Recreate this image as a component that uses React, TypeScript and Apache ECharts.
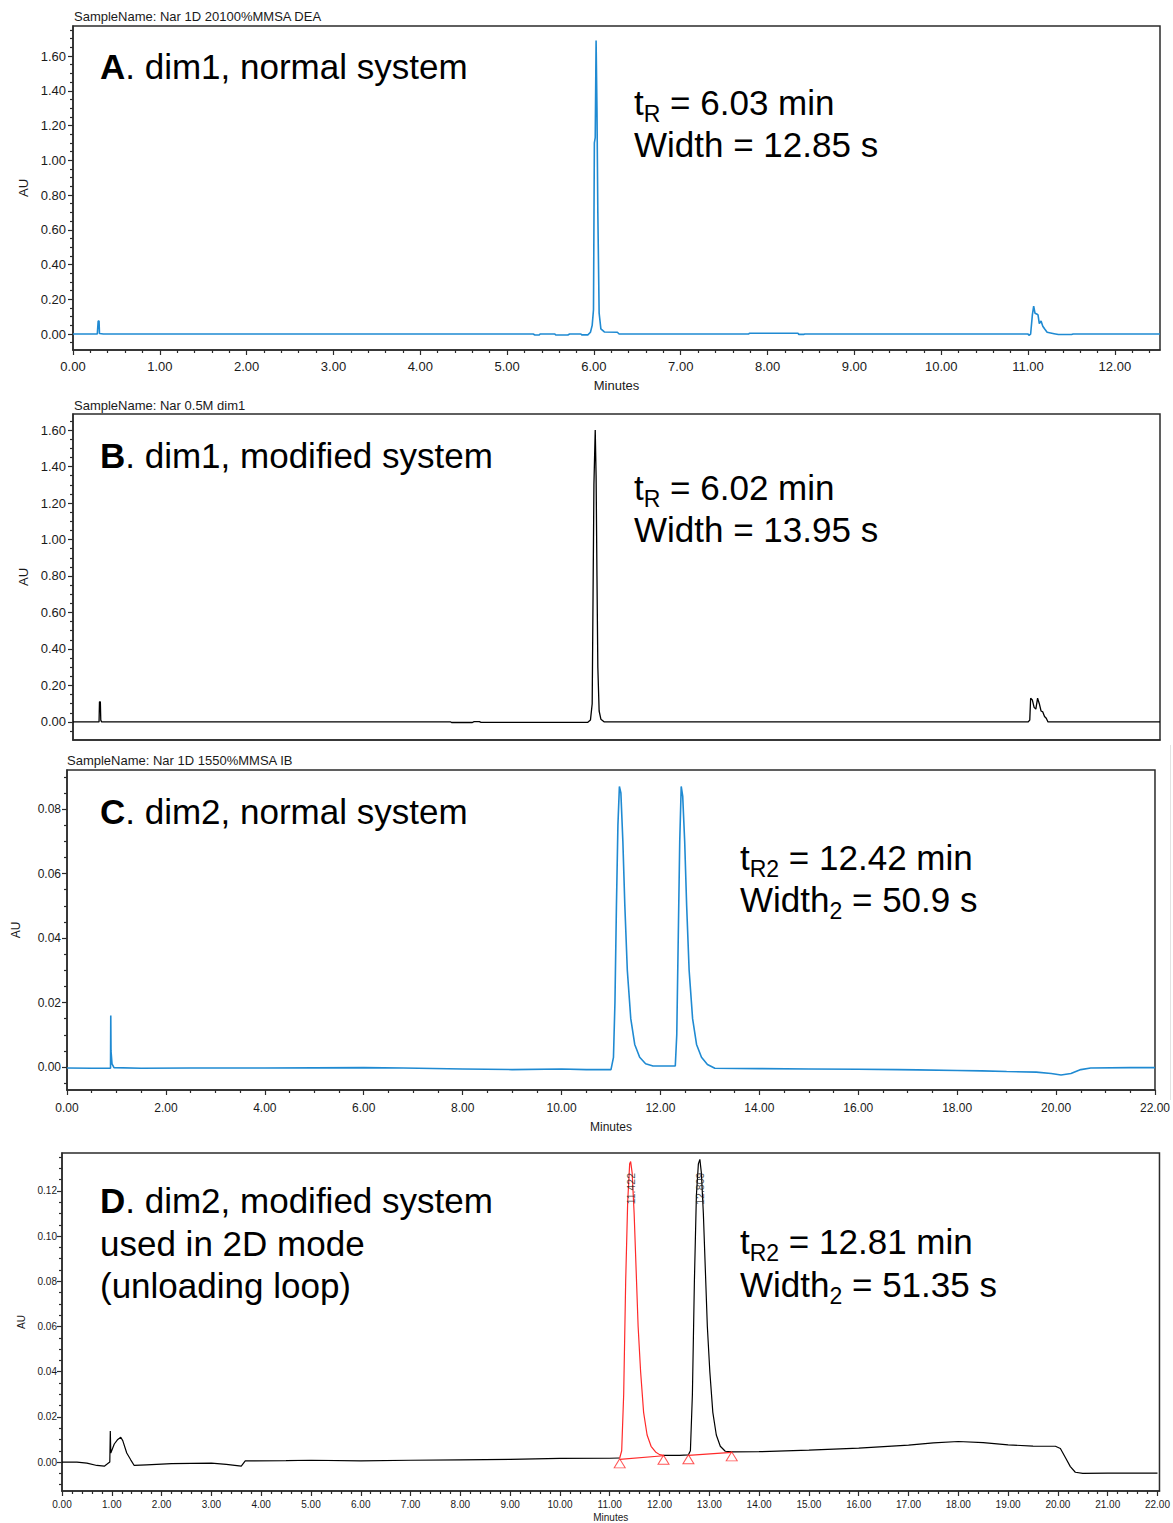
import React, { useEffect, useRef } from "react";
import * as echarts from "echarts";

const FONT = "'Liberation Sans', Arial, Helvetica, sans-serif";
const BLUE = "#1f8ad2";
const RED = "#ff2a2a";
const AXIS = "#2b2b2b";
const LABEL = "#1a1a1a";

// ---------- Panel A : dim1, normal system ----------
const aTrace: [number, number][] = [
  [0, 0], [0.28, 0], [0.29, 0.075], [0.30, 0.075], [0.305, 0.003], [0.35, 0],
  [5.30, 0], [5.32, -0.006], [5.37, -0.006], [5.38, 0], [5.55, 0], [5.56, -0.006], [5.70, -0.006],
  [5.72, 0], [5.85, 0], [5.86, -0.005], [5.93, -0.005], [5.96, 0.01], [5.98, 0.05], [5.995, 0.14],
  [6.005, 1.10], [6.015, 1.13], [6.025, 1.69], [6.035, 1.30], [6.045, 0.70], [6.06, 0.12],
  [6.08, 0.03], [6.12, 0.012], [6.27, 0.01], [6.29, 0],
  [7.78, 0], [7.79, 0.004], [8.35, 0.004], [8.36, -0.002], [8.42, -0.002], [8.43, 0],
  [11.0, 0], [11.01, -0.008], [11.03, 0], [11.05, 0.11], [11.065, 0.16], [11.08, 0.12],
  [11.10, 0.115], [11.115, 0.11], [11.13, 0.06], [11.15, 0.075], [11.17, 0.045], [11.19, 0.03],
  [11.22, 0.01], [11.3, 0.002], [11.35, -0.003], [11.5, -0.003], [11.52, 0], [12.52, 0],
];

// ---------- Panel B : dim1, modified system ----------
const bTrace: [number, number][] = [
  [0, 0], [0.30, 0], [0.305, 0.11], [0.315, 0.11], [0.32, 0.01], [0.33, 0],
  [4.35, 0], [4.36, -0.003], [4.60, -0.003], [4.62, 0.002], [4.68, 0.002], [4.70, -0.002],
  [5.93, -0.002], [5.96, 0.01], [5.98, 0.10], [5.99, 0.70], [6.00, 1.30], [6.015, 1.60],
  [6.025, 1.35], [6.035, 0.80], [6.045, 0.30], [6.06, 0.06], [6.08, 0.015], [6.12, 0],
  [11.0, 0], [11.02, 0.01], [11.03, 0.13], [11.05, 0.12], [11.07, 0.08], [11.09, 0.07],
  [11.11, 0.13], [11.13, 0.10], [11.15, 0.06], [11.17, 0.055], [11.19, 0.03], [11.21, 0.02],
  [11.23, 0], [12.52, 0],
];

// ---------- Panel C : dim2, normal system ----------
const cTrace: [number, number][] = [
  [0, -0.0003], [0.5, -0.0004], [0.88, -0.0004], [0.885, 0.016], [0.89, 0.005], [0.91, 0.001],
  [0.95, -0.0002], [1.5, -0.0004], [2.5, -0.0003], [4, -0.0003], [6, -0.0002], [6.8, -0.0003],
  [8, -0.0006], [9, -0.0008], [10, -0.0006], [10.5, -0.0008], [11.0, -0.0008],
  [11.05, 0.003], [11.08, 0.02], [11.11, 0.05], [11.14, 0.075], [11.17, 0.087], [11.20, 0.085],
  [11.24, 0.07], [11.28, 0.05], [11.33, 0.03], [11.40, 0.015], [11.48, 0.007], [11.58, 0.003],
  [11.70, 0.001], [11.85, 0.0003], [12.30, 0.0003],
  [12.33, 0.01], [12.36, 0.04], [12.39, 0.07], [12.42, 0.087], [12.45, 0.084], [12.49, 0.07],
  [12.53, 0.05], [12.58, 0.03], [12.65, 0.015], [12.73, 0.007], [12.83, 0.003], [12.95, 0.0008],
  [13.1, -0.0004], [14, -0.0005], [15, -0.0006], [16, -0.0007], [16.8, -0.0008], [17.2, -0.0009],
  [18, -0.0011], [18.5, -0.0012], [19.0, -0.0014], [19.6, -0.0016], [19.9, -0.002], [20.1, -0.0025],
  [20.3, -0.002], [20.5, -0.0008], [20.7, -0.0003], [21.5, -0.0002], [22, -0.0002],
];

// ---------- Panel D : dim2, modified system, 2D mode ----------
const dTraceBefore: [number, number][] = [
  [0, 0], [0.3, 0], [0.5, -0.0005], [0.7, -0.0015], [0.85, -0.0018], [0.9, -0.001], [0.96, 0],
  [0.97, 0.0138], [0.98, 0.004], [1.05, 0.008], [1.12, 0.010], [1.18, 0.011], [1.22, 0.0095],
  [1.30, 0.004], [1.38, 0.001], [1.45, -0.0015], [1.7, -0.0012], [2.2, -0.0007], [3.0, -0.0005],
  [3.3, -0.001], [3.6, -0.0018], [3.68, 0.0005], [4.5, 0.0006], [5.0, 0.0008], [6.0, 0.0005],
  [7.0, 0.0008], [8.0, 0.001], [9.0, 0.0012], [10.0, 0.0016], [11.0, 0.0017], [11.2, 0.0018],
];
const dRedPeak: [number, number][] = [
  [11.2, 0.0018], [11.24, 0.005], [11.28, 0.03], [11.32, 0.08], [11.36, 0.115], [11.40, 0.132],
  [11.42, 0.133], [11.45, 0.128], [11.49, 0.11], [11.53, 0.085], [11.57, 0.06], [11.62, 0.04],
  [11.68, 0.022], [11.75, 0.012], [11.83, 0.007], [11.92, 0.0045], [12.00, 0.0033], [12.08, 0.003],
];
const dTraceAfter: [number, number][] = [
  [12.08, 0.003], [12.4, 0.003], [12.58, 0.0032], [12.62, 0.005], [12.66, 0.03], [12.70, 0.08],
  [12.74, 0.118], [12.78, 0.132], [12.81, 0.134], [12.84, 0.128], [12.88, 0.11], [12.92, 0.085],
  [12.96, 0.06], [13.01, 0.04], [13.07, 0.022], [13.14, 0.012], [13.22, 0.007], [13.32, 0.0048],
  [13.45, 0.0045], [14.0, 0.0046], [15.0, 0.0053], [16.0, 0.0062], [17.0, 0.0075], [17.5, 0.0085],
  [18.0, 0.0091], [18.5, 0.0086], [19.0, 0.0076], [19.5, 0.0071], [19.95, 0.007], [20.05, 0.006],
  [20.15, 0.002], [20.25, -0.002], [20.35, -0.0045], [20.5, -0.005], [21.0, -0.0049], [22.0, -0.0049],
];
const dRedBaseline1: [number, number][] = [[11.2, 0.0012], [12.08, 0.0028]];
const dRedBaseline2: [number, number][] = [[12.58, 0.003], [13.45, 0.0043]];
const dTriangles: [number, number][] = [[11.2, 0.0012], [12.08, 0.0028], [12.58, 0.003], [13.45, 0.0043]];
const dRedPeakLabel: [number, number][] = [[11.422, 0.121]];
const dBlackPeakLabel: [number, number][] = [[12.809, 0.121]];

// ---------- Tick labels ----------
const abXMajor = [0, 1, 2, 3, 4, 5, 6, 7, 8, 9, 10, 11, 12];
const abYMajor = [0, 0.2, 0.4, 0.6, 0.8, 1.0, 1.2, 1.4, 1.6];
const cXMajor = [0, 2, 4, 6, 8, 10, 12, 14, 16, 18, 20, 22];
const cYMajor = [0, 0.02, 0.04, 0.06, 0.08];
const dXMajor = [0, 1, 2, 3, 4, 5, 6, 7, 8, 9, 10, 11, 12, 13, 14, 15, 16, 17, 18, 19, 20, 21, 22];
const dYMajor = [0, 0.02, 0.04, 0.06, 0.08, 0.10, 0.12];

function minorTicks(min: number, max: number, step: number, majors: number[]) {
  const out: number[] = [];
  const s = Math.ceil(min / step - 1e-9);
  const e = Math.floor(max / step + 1e-9);
  for (let k = s; k <= e; k++) {
    const v = +(k * step).toFixed(6);
    if (!majors.some((m) => Math.abs(m - v) < 1e-9)) out.push(v);
  }
  return out;
}

type Panel = {
  grid: { left: number; top: number; width: number; height: number };
  x: [number, number];
  y: [number, number];
  xMajor: number[];
  xMinorStep: number;
  yMajor: number[];
  yMinorStep: number;
  xLabels: boolean;
  fs: number;
  xNameGap: number;
  yNameGap: number;
  xLabelMargin: number;
  yLabelMargin: number;
};

const panels: Panel[] = [
  { grid: { left: 73, top: 26, width: 1087, height: 324 }, x: [0, 12.52], y: [-0.092, 1.773],
    xMajor: abXMajor, xMinorStep: 0.2, yMajor: abYMajor, yMinorStep: 0.05, xLabels: true, fs: 13,
    xNameGap: 29, yNameGap: 40, xLabelMargin: 10, yLabelMargin: 7 },
  { grid: { left: 73, top: 414, width: 1087, height: 326 }, x: [0, 12.52], y: [-0.099, 1.688],
    xMajor: abXMajor, xMinorStep: 0.2, yMajor: abYMajor, yMinorStep: 0.05, xLabels: false, fs: 13,
    xNameGap: 28, yNameGap: 40, xLabelMargin: 10, yLabelMargin: 7 },
  { grid: { left: 67, top: 770, width: 1090, height: 320 }, x: [0, 22], y: [-0.00713, 0.0921],
    xMajor: cXMajor, xMinorStep: 0.5, yMajor: cYMajor, yMinorStep: 0.005, xLabels: true, fs: 12,
    xNameGap: 31, yNameGap: 45, xLabelMargin: 12, yLabelMargin: 6 },
  { grid: { left: 62, top: 1153, width: 1098, height: 339 }, x: [0, 22.04], y: [-0.0128, 0.1368],
    xMajor: dXMajor, xMinorStep: 0.2, yMajor: dYMajor, yMinorStep: 0.005, xLabels: true, fs: 10,
    xNameGap: 21, yNameGap: 32, xLabelMargin: 8, yLabelMargin: 5 },
];

const W: Record<string, number> = { t: 0.278, R: 0.722, "2": 0.556, W: 0.944, i: 0.222, d: 0.556, h: 0.556, " ": 0.278 };
const tw = (s: string, fs: number) => [...s].reduce((a, c) => a + (W[c] ?? 0.556) * fs, 0);

const MAIN = 35;
const SUB = 23;
function subText(x: number, y: number, parts: [string, boolean][]) {
  const els: any[] = [];
  let cx = x;
  for (const [t, isSub] of parts) {
    const fs = isSub ? SUB : MAIN;
    els.push({
      type: "text", x: cx, y: isSub ? y + 11.5 : y, z: 100,
      style: { text: t, fontSize: fs, fontFamily: FONT, fill: "#000", align: "left", verticalAlign: "middle" },
    });
    cx += tw(t, fs);
  }
  return els;
}
function bigLabel(x: number, y: number, letter: string, rest: string) {
  return {
    type: "text", x, y, z: 100,
    style: {
      text: `{b|${letter}}${rest}`, fontSize: MAIN, fontFamily: FONT, fill: "#000",
      align: "left", verticalAlign: "middle",
      rich: { b: { fontSize: MAIN, fontFamily: FONT, fontWeight: "bold", fill: "#000" } },
    },
  };
}
function plain(x: number, y: number, text: string, fs: number) {
  return {
    type: "text", x, y, z: 100,
    style: { text, fontSize: fs, fontFamily: FONT, fill: fs > 20 ? "#000" : LABEL, align: "left", verticalAlign: "middle" },
  };
}

export default function App() {
  const ref = useRef<HTMLDivElement>(null);
  useEffect(() => {
    document.body.style.margin = "0";
    const chart = echarts.init(ref.current!, undefined, { renderer: "svg" });
    const grids: any[] = [];
    const xAxes: any[] = [];
    const yAxes: any[] = [];
    panels.forEach((p, i) => {
      grids.push({ ...p.grid, show: true, borderColor: AXIS, borderWidth: 1.5, backgroundColor: "transparent" });
      const lbl = { fontSize: p.fs, fontFamily: FONT, color: LABEL };
      xAxes.push({
        type: "value", gridIndex: i, min: p.x[0], max: p.x[1], position: "bottom",
        axisLine: { show: true, onZero: false, lineStyle: { color: AXIS, width: 1.5 } },
        axisTick: { show: p.xLabels, length: 5, customValues: p.xMajor, lineStyle: { color: AXIS, width: 1.2 } },
        axisLabel: { show: p.xLabels, customValues: p.xMajor, formatter: (v: number) => v.toFixed(2), margin: p.xLabelMargin, ...lbl },
        splitLine: { show: false },
        name: p.xLabels ? "Minutes" : "", nameLocation: "middle", nameGap: p.xNameGap, nameTextStyle: lbl,
      });
      xAxes.push({
        type: "value", gridIndex: i, min: p.x[0], max: p.x[1], position: "bottom",
        axisLine: { show: false, onZero: false },
        axisTick: { show: p.xLabels, length: 3, customValues: minorTicks(p.x[0], p.x[1], p.xMinorStep, p.xMajor), lineStyle: { color: AXIS, width: 1.2 } },
        axisLabel: { show: false }, splitLine: { show: false },
      });
      yAxes.push({
        type: "value", gridIndex: i, min: p.y[0], max: p.y[1], position: "left",
        axisLine: { show: true, onZero: false, lineStyle: { color: AXIS, width: 1.5 } },
        axisTick: { show: true, length: 5, customValues: p.yMajor, lineStyle: { color: AXIS, width: 1.2 } },
        axisLabel: { show: true, customValues: p.yMajor, formatter: (v: number) => v.toFixed(2), margin: p.yLabelMargin, ...lbl },
        splitLine: { show: false },
        name: "AU", nameLocation: "middle", nameGap: p.yNameGap, nameTextStyle: lbl,
      });
      yAxes.push({
        type: "value", gridIndex: i, min: p.y[0], max: p.y[1], position: "left",
        axisLine: { show: false, onZero: false },
        axisTick: { show: true, length: 3, customValues: minorTicks(p.y[0], p.y[1], p.yMinorStep, p.yMajor), lineStyle: { color: AXIS, width: 1.2 } },
        axisLabel: { show: false }, splitLine: { show: false },
      });
    });

    const line = (panel: number, data: [number, number][], color: string, width = 1.5, z = 2) => ({
      type: "line", xAxisIndex: panel * 2, yAxisIndex: panel * 2, data, showSymbol: false, symbol: "none",
      lineStyle: { color, width }, z, silent: true,
    });
    const peakLabel = (data: [number, number][]) => ({
      type: "scatter", xAxisIndex: 6, yAxisIndex: 6, data, symbolSize: 0, z: 10,
      label: {
        show: true, position: "inside", rotate: 90, fontSize: 10.5, fontFamily: FONT, color: "#222",
        formatter: (pp: any) => pp.value[0].toFixed(3),
      },
    });

    const series: any[] = [
      line(0, aTrace, BLUE, 1.6),
      line(1, bTrace, "#000", 1.3),
      line(2, cTrace, BLUE, 1.6),
      line(3, dTraceBefore, "#000", 1.2),
      line(3, dTraceAfter, "#000", 1.2),
      line(3, dRedPeak, RED, 1.2, 3),
      line(3, dRedBaseline1, RED, 1.2, 4),
      line(3, dRedBaseline2, RED, 1.2, 4),
      {
        type: "scatter", xAxisIndex: 6, yAxisIndex: 6, data: dTriangles, symbol: "triangle",
        symbolSize: [11, 9], symbolOffset: [0, 4], z: 5,
        itemStyle: { color: "rgba(255,255,255,0)", borderColor: RED, borderWidth: 1 },
      },
      peakLabel(dRedPeakLabel),
      peakLabel(dBlackPeakLabel),
    ];

    const graphic: any[] = [
      plain(74, 16, "SampleName: Nar 1D 20100%MMSA DEA", 13),
      plain(74, 405, "SampleName: Nar 0.5M dim1", 13),
      plain(67, 760, "SampleName: Nar 1D 1550%MMSA IB", 13),
      bigLabel(100, 66, "A", ". dim1, normal system"),
      bigLabel(100, 455, "B", ". dim1, modified system"),
      bigLabel(100, 811, "C", ". dim2, normal system"),
      bigLabel(100, 1200, "D", ". dim2, modified system"),
      plain(100, 1243, "used in 2D mode", MAIN),
      plain(100, 1285, "(unloading loop)", MAIN),
      ...subText(634, 102, [["t", false], ["R", true], [" = 6.03 min", false]]),
      ...subText(634, 144, [["Width = 12.85 s", false]]),
      ...subText(634, 487, [["t", false], ["R", true], [" = 6.02 min", false]]),
      ...subText(634, 529, [["Width = 13.95 s", false]]),
      ...subText(740, 857, [["t", false], ["R2", true], [" = 12.42 min", false]]),
      ...subText(740, 899, [["Width", false], ["2", true], [" = 50.9 s", false]]),
      ...subText(740, 1241, [["t", false], ["R2", true], [" = 12.81 min", false]]),
      ...subText(740, 1284, [["Width", false], ["2", true], [" = 51.35 s", false]]),
      { type: "line", z: 1, shape: { x1: 1170.5, y1: 745, x2: 1170.5, y2: 1100 }, style: { stroke: "#e2e2e2", lineWidth: 1 } },
    ];

    chart.setOption({
      animation: false,
      backgroundColor: "#fff",
      grid: grids,
      xAxis: xAxes,
      yAxis: yAxes,
      series,
      graphic,
    });
    return () => chart.dispose();
  }, []);
  return <div ref={ref} style={{ width: 1173, height: 1523 }} />;
}
